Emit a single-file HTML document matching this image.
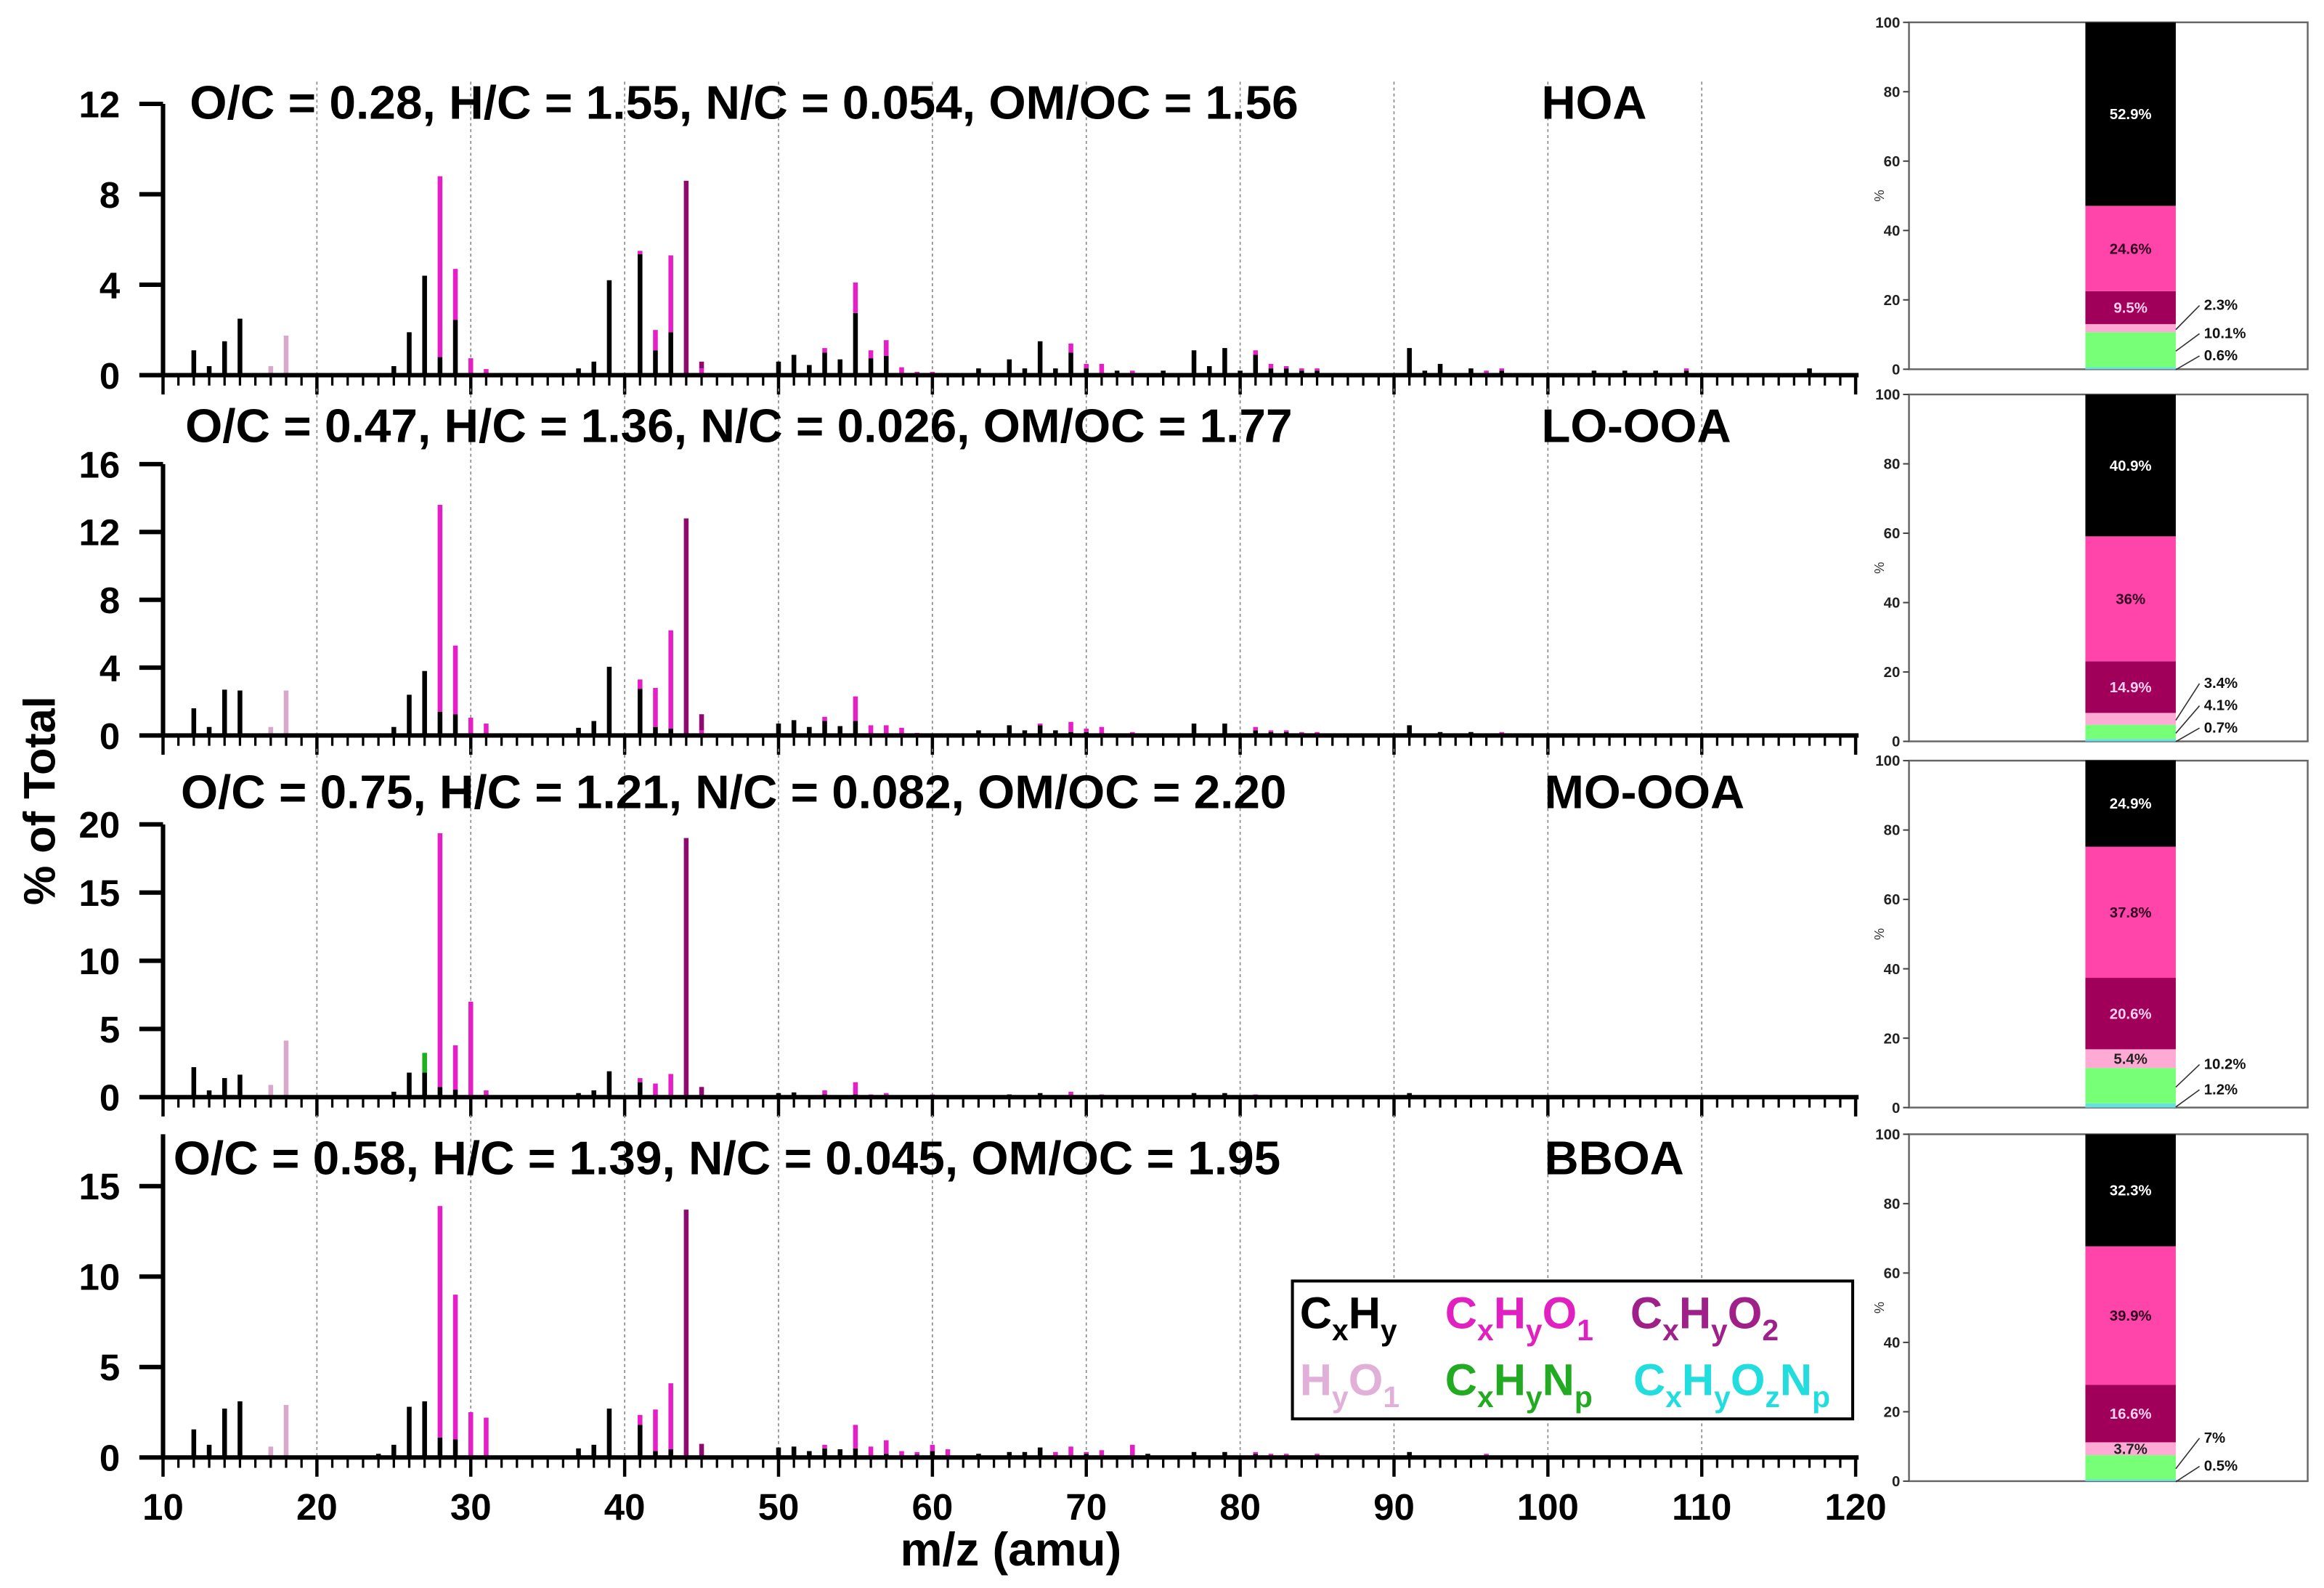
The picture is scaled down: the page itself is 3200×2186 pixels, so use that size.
<!DOCTYPE html>
<html><head><meta charset="utf-8">
<style>
html,body{margin:0;padding:0;background:#fff;}
svg{display:block;}
text{font-family:"Liberation Sans",Arial,sans-serif;}
</style></head>
<body>
<svg id="chart" xmlns="http://www.w3.org/2000/svg" width="3200" height="2186" viewBox="0 0 1568 1071">
<rect x="0" y="0" width="1568" height="1071" fill="#fff"/>
<g id="main"></g>
<text x="0" y="0" transform="translate(37,540) rotate(-90)" text-anchor="middle" font-size="30" font-weight="bold">% of Total</text>
<text x="682" y="1056" text-anchor="middle" font-size="32" font-weight="bold">m/z (amu)</text>
<g>
<rect x="872" y="864" width="378" height="93" fill="#fff" stroke="#000" stroke-width="2"/>
<text x="877" y="896" font-size="30" font-weight="bold" fill="#000">C<tspan dy="8" font-size="20">x</tspan><tspan dy="-8">H</tspan><tspan dy="8" font-size="20">y</tspan></text>
<text x="975" y="896" font-size="30" font-weight="bold" fill="#e020c0">C<tspan dy="8" font-size="20">x</tspan><tspan dy="-8">H</tspan><tspan dy="8" font-size="20">y</tspan><tspan dy="-8">O</tspan><tspan dy="8" font-size="20">1</tspan></text>
<text x="1100" y="896" font-size="30" font-weight="bold" fill="#a0208a">C<tspan dy="8" font-size="20">x</tspan><tspan dy="-8">H</tspan><tspan dy="8" font-size="20">y</tspan><tspan dy="-8">O</tspan><tspan dy="8" font-size="20">2</tspan></text>
<text x="877" y="941" font-size="30" font-weight="bold" fill="#e0b0d8">H<tspan dy="8" font-size="20">y</tspan><tspan dy="-8">O</tspan><tspan dy="8" font-size="20">1</tspan></text>
<text x="975" y="941" font-size="30" font-weight="bold" fill="#22aa22">C<tspan dy="8" font-size="20">x</tspan><tspan dy="-8">H</tspan><tspan dy="8" font-size="20">y</tspan><tspan dy="-8">N</tspan><tspan dy="8" font-size="20">p</tspan></text>
<text x="1102" y="941" font-size="30" font-weight="bold" fill="#22dddd">C<tspan dy="8" font-size="20">x</tspan><tspan dy="-8">H</tspan><tspan dy="8" font-size="20">y</tspan><tspan dy="-8">O</tspan><tspan dy="8" font-size="20">z</tspan><tspan dy="-8">N</tspan><tspan dy="8" font-size="20">p</tspan></text>
</g>
<g id="side"></g>
</svg>
<script>
// ---------- DATA ----------
const panelNames = ["HOA","LO-OOA","MO-OOA","BBOA"];
const panelTitles = ["O/C = 0.28, H/C = 1.55, N/C = 0.054, OM/OC = 1.56","O/C = 0.47, H/C = 1.36, N/C = 0.026, OM/OC = 1.77","O/C = 0.75, H/C = 1.21, N/C = 0.082, OM/OC = 2.20","O/C = 0.58, H/C = 1.39, N/C = 0.045, OM/OC = 1.95"];
const xTicks = [10,20,30,40,50,60,70,80,90,100,110,120];

const hoaMz = [12,13,14,15,16,17,18,25,26,27,28,29,30,31,37,38,39,41,42,43,44,45,50,51,52,53,54,55,56,57,58,59,60,63,65,66,67,68,69,70,71,72,73,75,77,78,79,80,81,82,83,84,85,91,92,93,95,96,97,103,105,107,109,117];
const hoaCH = [1.1,0.4,1.5,2.5,0,0,0,0.4,1.9,4.4,0.8,2.45,0,0,0.3,0.6,4.2,5.35,1.1,1.9,0,0,0.6,0.9,0.45,1.0,0.7,2.75,0.75,0.85,0.1,0,0,0.3,0.7,0.3,1.5,0.3,1.0,0.3,0.1,0.2,0.1,0.2,1.1,0.4,1.2,0.2,0.9,0.3,0.3,0.2,0.2,1.2,0.2,0.5,0.3,0.1,0.2,0.2,0.2,0.2,0.2,0.3];
const hoaO1 = [0,0,0,0,0,0,0,0,0,0,8.0,2.25,0.75,0.27,0,0,0,0.15,0.9,3.4,0,0.3,0,0,0,0.2,0,1.35,0.35,0.7,0.25,0.15,0.15,0,0,0,0,0,0.4,0.2,0.4,0,0.1,0,0,0,0,0,0.2,0.2,0.1,0.1,0.1,0,0,0,0,0.1,0.1,0,0,0,0.1,0];
const hoaO2Mz = [44,45], hoaO2 = [8.6,0.3];
const hoaHOMz = [16,17,18], hoaHO = [0.1,0.4,1.75];
const hoaNMz = [], hoaN = [];

const loMz = [12,13,14,15,16,17,18,25,26,27,28,29,30,31,37,38,39,41,42,43,44,45,50,51,52,53,54,55,56,57,58,59,63,65,66,67,68,69,70,71,73,77,79,81,82,83,84,85,91,93,95,97];
const loCH = [1.6,0.5,2.7,2.65,0,0,0,0.5,2.4,3.8,1.4,1.25,0,0,0.45,0.85,4.05,2.75,0.5,0.4,0,0,0.7,0.9,0.5,0.85,0.55,0.85,0,0,0,0,0.3,0.6,0.3,0.6,0.3,0.2,0.2,0.1,0.1,0.7,0.7,0.3,0.2,0.2,0.1,0.1,0.6,0.2,0.2,0.1];
const loO1 = [0,0,0,0,0,0,0,0,0,0,12.2,4.05,1.05,0.7,0,0,0,0.55,2.3,5.8,0,0.3,0,0,0,0.25,0,1.45,0.6,0.6,0.45,0.15,0,0,0,0.1,0,0.6,0.2,0.4,0.1,0,0,0.2,0.1,0.1,0.1,0.1,0,0,0,0.1];
const loO2Mz = [44,45], loO2 = [12.8,0.95];
const loHOMz = [16,17,18], loHO = [0.1,0.5,2.65];
const loNMz = [], loN = [];

const moMz = [12,13,14,15,17,18,25,26,27,28,29,30,31,37,38,39,41,42,43,44,45,50,51,53,55,56,57,59,60,65,67,69,71,77,79,81,91];
const moCH = [2.2,0.5,1.4,1.65,0,0,0.4,1.8,1.8,0.75,0.55,0,0,0.3,0.5,1.9,1.1,0,0,0,0,0.3,0.35,0.2,0.2,0.1,0.1,0,0,0.2,0.3,0.1,0.1,0.3,0.3,0.1,0.3];
const moO1 = [0,0,0,0,0,0,0,0,0,18.6,3.25,7.0,0.5,0,0,0,0.3,1.0,1.7,0,0,0,0,0.3,0.9,0.1,0.2,0.15,0.2,0,0,0.3,0.1,0,0,0.1,0];
const moO2Mz = [44,45], moO2 = [19.0,0.75];
const moHOMz = [17,18], moHO = [0.9,4.15];
const moNMz = [27], moN = [1.45];

const bbMz = [12,13,14,15,17,18,24,25,26,27,28,29,30,31,37,38,39,41,42,43,44,45,50,51,52,53,54,55,56,57,58,59,60,61,63,65,66,67,68,69,70,71,73,74,77,79,81,82,83,85,91,96];
const bbCH = [1.55,0.7,2.7,3.1,0,0,0.2,0.7,2.8,3.1,1.1,1.0,0,0,0.5,0.7,2.7,1.8,0.35,0.45,0,0,0.55,0.6,0.35,0.5,0.45,0.5,0,0.2,0.1,0.15,0.35,0,0.2,0.3,0.3,0.55,0.1,0.1,0.2,0.1,0.1,0.2,0.3,0.3,0.2,0.1,0.1,0.1,0.3,0.1];
const bbO1 = [0,0,0,0,0,0,0,0,0,0,12.8,8.0,2.5,2.2,0,0,0,0.55,2.3,3.65,0,0,0,0,0,0.2,0,1.3,0.6,0.75,0.25,0.15,0.35,0.45,0,0,0,0,0.2,0.5,0.1,0.3,0.6,0,0,0,0.1,0.1,0.1,0.1,0,0.1];
const bbO2Mz = [44,45], bbO2 = [13.7,0.75];
const bbHOMz = [17,18], bbHO = [0.6,2.9];
const bbNMz = [], bbN = [];

// stacked family fractions (%), bottom -> top: CxHyOzNp, CxHyNp, HyO1, CxHyO2, CxHyO1, CxHy
const famNames = ["CxHyOzNp","CxHyNp","HyO1","CxHyO2","CxHyO1","CxHy"];
const hoaFrac = [0.6,10.1,2.3,9.5,24.6,52.9];
const loFrac = [0.7,4.1,3.4,14.9,36,40.9];
const moFrac = [1.2,10.2,5.4,20.6,37.8,24.9];
const bbFrac = [0.5,7,3.7,16.6,39.9,32.3];
const fracLabels = [["0.6%","10.1%","2.3%","9.5%","24.6%","52.9%"],["0.7%","4.1%","3.4%","14.9%","36%","40.9%"],["1.2%","10.2%","5.4%","20.6%","37.8%","24.9%"],["0.5%","7%","3.7%","16.6%","39.9%","32.3%"]];
const sideTicks = [0,20,40,60,80,100];

// ---------- LAYOUT ----------
const NS = "http://www.w3.org/2000/svg";
function mk(tag, attrs, parent){const e=document.createElementNS(NS,tag);for(const k in attrs)e.setAttribute(k,attrs[k]);parent.appendChild(e);return e;}
const main = document.getElementById("main");
const side = document.getElementById("side");
const X0 = 110, X1 = 1252;
const xs = m => X0 + (m-10)*(X1-X0)/110;
const spectra = [
 {mz:hoaMz,ch:hoaCH,o1:hoaO1,o2m:hoaO2Mz,o2:hoaO2,hom:hoaHOMz,ho:hoaHO,nm:hoaNMz,n:hoaN},
 {mz:loMz,ch:loCH,o1:loO1,o2m:loO2Mz,o2:loO2,hom:loHOMz,ho:loHO,nm:loNMz,n:loN},
 {mz:moMz,ch:moCH,o1:moO1,o2m:moO2Mz,o2:moO2,hom:moHOMz,ho:moHO,nm:moNMz,n:moN},
 {mz:bbMz,ch:bbCH,o1:bbO1,o2m:bbO2Mz,o2:bbO2,hom:bbHOMz,ho:bbHO,nm:bbNMz,n:bbN}
];
const fracs = [hoaFrac,loFrac,moFrac,bbFrac];
const geo = [
 {zero:253, top:70, max:12, step:4, ptop:55, axTop:70, tx:128, ty:80, tw:748, nx:1040},
 {zero:496, top:313, max:16, step:4, ptop:262, axTop:313, tx:125, ty:298, tw:747, nx:1040},
 {zero:740, top:556, max:20, step:5, ptop:505, axTop:556, tx:122, ty:545, tw:746, nx:1042},
 {zero:983, top:800, max:15, step:5, ptop:752, axTop:765, tx:117, ty:792, tw:747, nx:1042}
];
const colCH="#000", colO1="#e61ec8", colO2="#8e0a6e", colHO="#d8a8cc", colN="#1cb01c", colON="#22cccc";

geo.forEach((g,pi)=>{
  const ys = v => g.zero - v*(g.zero-g.top)/g.max;
  const grp = mk("g",{},main);
  
  
  for(let t=20;t<=110;t+=10){
    const l=mk("line",{x1:xs(t),x2:xs(t),y1:g.ptop,y2:g.zero,stroke:"#888","stroke-width":0.8,"stroke-dasharray":"2,2"},grp);
    
    
  }
  const tt=mk("text",{x:g.tx,y:g.ty,"font-size":32,"font-weight":"bold",textLength:g.tw,lengthAdjust:"spacingAndGlyphs"},grp);
  tt.textContent=panelTitles[pi];
  
  
  const nt=mk("text",{x:g.nx,y:g.ty,"font-size":32,"font-weight":"bold"},grp);
  nt.textContent=panelNames[pi];
  
  
  const s = spectra[pi];
  const base = {};
  function bar(m,v,col,name){
    if(!(v>0))return;
    const b0 = base[m]||0;
    const y1=ys(b0+v), y2=ys(b0);
    const r=mk("rect",{x:xs(m)-1.6,y:y1,width:3.2,height:Math.max(0.6,y2-y1),fill:col},grp);
    
    
    base[m]=b0+v;
  }
  s.mz.forEach((m,i)=>bar(m,s.ch[i],colCH,'bar-cxhy'));
  s.hom.forEach((m,i)=>bar(m,s.ho[i],colHO,'bar-hyo1'));
  s.nm.forEach((m,i)=>bar(m,s.n[i],colN,'bar-cxhynp'));
  s.mz.forEach((m,i)=>bar(m,s.o1[i],colO1,'bar-cxhyo1'));
  s.o2m.forEach((m,i)=>bar(m,s.o2[i],colO2,'bar-cxhyo2'));
  const xa=mk("line",{x1:X0-1,x2:X1+2,y1:g.zero,y2:g.zero,stroke:"#000","stroke-width":3},grp);
  
  
  for(let m=10;m<=120;m++){
    const maj=m%10===0;
    mk("line",{x1:xs(m),x2:xs(m),y1:g.zero,y2:g.zero+(maj?13:7),stroke:"#000","stroke-width":maj?2.2:1.6},grp);
  }
  if(pi===3){
    xTicks.forEach(t=>{
      const tl=mk("text",{x:xs(t),y:g.zero+42,"text-anchor":"middle","font-size":25,"font-weight":"bold"},grp);
      tl.textContent=t;
      
      
    });
  }
  const ya=mk("line",{x1:X0,x2:X0,y1:g.axTop,y2:g.zero+1,stroke:"#000","stroke-width":3},grp);
  
  
  for(let v=0;v<=g.max;v+=g.step){
    mk("line",{x1:X0-16,x2:X0,y1:ys(v),y2:ys(v),stroke:"#000","stroke-width":3},grp);
    const yl=mk("text",{x:X0-29,y:ys(v)+9,"text-anchor":"end","font-size":25,"font-weight":"bold"},grp);
    yl.textContent=v;
    
    
  }
});

// ---------- SIDE STACKED BARS ----------
const sideGeo = [{top:15,bot:249},{top:266,bot:500},{top:513,bot:747},{top:765,bot:999}];
const famColors = ["#66e0e0","#77ff77","#ffaad4","#a0005a","#ff44aa","#000000"];
const famText = ["#000","#000","#222","#ffd0ee","#300020","#ffffff"];
const outside = [
 {2:-40,1:-21,0:-6},
 {2:-36,1:-21,0:-6},
 {1:-26,0:-9},
 {1:-26,0:-7}
];
const BX0=1288, BX1=1557, BL=1407, BR=1468;
sideGeo.forEach((sg,pi)=>{
  const ys = v => sg.bot - v*(sg.bot-sg.top)/100;
  const grp = mk("g",{},side);
  
  
  const box=mk("rect",{x:BX0,y:sg.top,width:BX1-BX0,height:sg.bot-sg.top,fill:"none",stroke:"#666","stroke-width":1.2},grp);
  
  
  sideTicks.forEach(t=>{
    mk("line",{x1:BX0-4,x2:BX0,y1:ys(t),y2:ys(t),stroke:"#444","stroke-width":1},grp);
    const l=mk("text",{x:BX0-6,y:ys(t)+3.5,"text-anchor":"end","font-size":10,"font-weight":"bold",fill:"#222"},grp);
    l.textContent=t;
    
    
  });
  const pl=mk("text",{x:0,y:0,transform:`translate(${BX0-17},${(sg.top+sg.bot)/2}) rotate(-90)`,"text-anchor":"middle","font-size":9,fill:"#333"},grp);
  pl.textContent="%";
  
  
  let cum=0;
  fracs[pi].forEach((v,fi)=>{
    const y1=ys(cum+v), y2=ys(cum);
    const r=mk("rect",{x:BL,y:y1,width:BR-BL,height:y2-y1,fill:famColors[fi]},grp);
    
    
    const off = outside[pi][fi];
    if(off!==undefined){
      const ly = sg.bot+off;
      mk("line",{x1:BR,y1:(y1+y2)/2+1,x2:BR+16,y2:ly-3,stroke:"#333","stroke-width":0.8},grp);
      const t=mk("text",{x:BR+19,y:ly,"font-size":10,"font-weight":"bold",fill:"#111"},grp);
      t.textContent=fracLabels[pi][fi];
      
      
    } else {
      const t=mk("text",{x:(BL+BR)/2,y:(y1+y2)/2+3.5,"text-anchor":"middle","font-size":10,"font-weight":"bold",fill:famText[fi]},grp);
      t.textContent=fracLabels[pi][fi];
      
      
    }
    cum+=v;
  });
});
</script>
</body></html>
